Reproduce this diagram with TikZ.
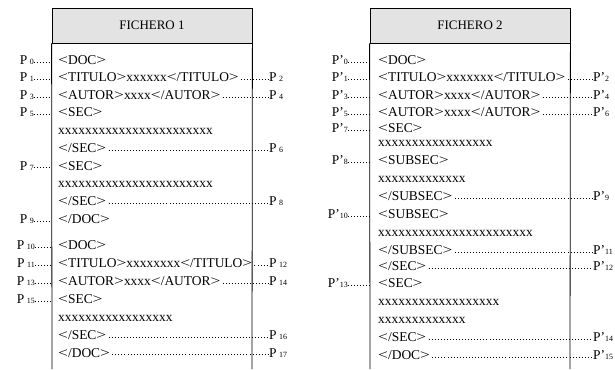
\documentclass[tikz,border=0pt]{standalone}
\usepackage{fontspec}
\usepackage{graphicx}
\setmainfont{Liberation Serif}
\newcommand{\fsz}{\fontsize{13.5}{16}\selectfont}
\newcommand{\sub}[1]{{\fontsize{8}{8}\selectfont #1}}
\newcommand{\PL}[1]{P\kern2.5bp\sub{#1}}
\newcommand{\PP}[1]{P’\sub{#1}}
\newcommand{\LT}{\scalebox{1.3}[1]{<}}
\newcommand{\GT}{\scalebox{1.3}[1]{>}}
\newcommand{\tg}[1]{\LT#1\GT}
\newcommand{\etg}[1]{\LT/#1\GT}
\tikzset{
  txt/.style={anchor=mid west, inner sep=0pt, font=\fsz},
  labl/.style={anchor=mid east, inner sep=0pt, font=\fsz},
  labr/.style={anchor=mid west, inner sep=0pt, font=\fsz},
  dotline/.style={line width=0.65bp, dash pattern=on 0.65bp off 2.4bp},
  hdr/.style={draw, line width=0.8bp, fill=gray!22, minimum width=200bp, minimum height=35bp, inner sep=0pt, font=\fontsize{13}{15}\selectfont},
  boxline/.style={line width=0.8bp}
}
\begin{document}
\begin{tikzpicture}[x=1bp,y=-1bp]
\useasboundingbox (0,0) rectangle (615,369);
% ---------- FICHERO 1 ----------
\node[hdr] (h1) at (152,25.5) {FICHERO 1};
\coordinate (b1l) at (52,369);
\coordinate (b1r) at (252,369);
\draw[boxline] (h1.south west) -- (b1l);
\draw[boxline] (h1.south east) -- (b1r);
% rows
\node[txt] (a0) at (58,62) {\tg{DOC}};
\node[txt] (a1) at (58,79.5) {\tg{TITULO}xxxxxx\etg{TITULO}};
\node[txt] (a2) at (58,97) {\tg{AUTOR}xxxx\etg{AUTOR}};
\node[txt] (a3) at (58,114.7) {\tg{SEC}};
\node[txt] (a4) at (58,132.4) {xxxxxxxxxxxxxxxxxxxxxxx};
\node[txt] (a5) at (58,150.1) {\etg{SEC}};
\node[txt] (a6) at (58,167.8) {\tg{SEC}};
\node[txt] (a7) at (58,185.5) {xxxxxxxxxxxxxxxxxxxxxxx};
\node[txt] (a8) at (58,203.3) {\etg{SEC}};
\node[txt] (a9) at (58,221.2) {\etg{DOC}};
\node[txt] (a10) at (58,247.2) {\tg{DOC}};
\node[txt] (a11) at (58,265.2) {\tg{TITULO}xxxxxxxx\etg{TITULO}};
\node[txt] (a12) at (58,283.2) {\tg{AUTOR}xxxx\etg{AUTOR}};
\node[txt] (a13) at (58,301.1) {\tg{SEC}};
\node[txt] (a14) at (58,319) {xxxxxxxxxxxxxxxxx};
\node[txt] (a15) at (58,336.9) {\etg{SEC}};
\node[txt] (a16) at (58,354.8) {\etg{DOC}};
% left labels
\node[labl] (p0) at (34,62) {\PL{0}};
\node[labl] (p1) at (34,79.5) {\PL{1}};
\node[labl] (p3) at (34,97) {\PL{3}};
\node[labl] (p5) at (34,114.7) {\PL{5}};
\node[labl] (p7) at (34,167.8) {\PL{7}};
\node[labl] (p9) at (34,221.2) {\PL{9}};
\node[labl] (p10) at (35,247.2) {\PL{10}};
\node[labl] (p11) at (35,265.2) {\PL{11}};
\node[labl] (p13) at (35,283.2) {\PL{13}};
\node[labl] (p15) at (35,301.1) {\PL{15}};
\foreach \n in {p0,p1,p3,p5,p7,p9,p10,p11,p13,p15}
  \draw[dotline] (\n.mid east) -- (\n.mid east -| b1l);
% right labels
\node[labr] (p2) at (269,79.5) {\PL{2}};
\node[labr] (p4) at (269,97) {\PL{4}};
\node[labr] (p6) at (269,150.1) {\PL{6}};
\node[labr] (p8) at (269,203.3) {\PL{8}};
\node[labr] (p12) at (269,265.2) {\PL{12}};
\node[labr] (p14) at (269,283.2) {\PL{14}};
\node[labr] (p16) at (269,336.9) {\PL{16}};
\node[labr] (p17) at (269,354.8) {\PL{17}};
\foreach \t/\n in {a1/p2,a2/p4,a5/p6,a8/p8,a11/p12,a12/p14,a15/p16,a16/p17}
  \draw[dotline] ([xshift=2bp]\t.mid east) -- (\n.mid west);
% ---------- FICHERO 2 ----------
\node[hdr] (h2) at (470,25.5) {FICHERO 2};
\coordinate (b2l) at (370,369);
\coordinate (b2r) at (570,369);
\draw[boxline] (h2.south west) -- (b2l);
\draw[boxline] (h2.south east) -- (b2r);
\node[txt] (c0) at (378,62) {\tg{DOC}};
\node[txt] (c1) at (378,79.5) {\tg{TITULO}xxxxxxx\etg{TITULO}};
\node[txt] (c2) at (378,97) {\tg{AUTOR}xxxx\etg{AUTOR}};
\node[txt] (c3) at (378,114.7) {\tg{AUTOR}xxxx\etg{AUTOR}};
\node[txt] (c4) at (378,130.2) {\tg{SEC}};
\node[txt] (c5) at (378,144.2) {xxxxxxxxxxxxxxxxx};
\node[txt] (c6) at (378,162.2) {\tg{SUBSEC}};
\node[txt] (c7) at (378,180) {xxxxxxxxxxxxx};
\node[txt] (c8) at (378,198) {\etg{SUBSEC}};
\node[txt] (c9) at (378,216.3) {\tg{SUBSEC}};
\node[txt] (c10) at (378,234) {xxxxxxxxxxxxxxxxxxxxxxx};
\node[txt] (c11) at (378,252.2) {\etg{SUBSEC}};
\node[txt] (c12) at (378,268) {\etg{SEC}};
\node[txt] (c13) at (378,285.5) {\tg{SEC}};
\node[txt] (c14) at (378,303.3) {xxxxxxxxxxxxxxxxxx};
\node[txt] (c15) at (378,321.3) {xxxxxxxxxxxxx};
\node[txt] (c16) at (378,339.4) {\etg{SEC}};
\node[txt] (c17) at (378,357.4) {\etg{DOC}};
\node[labl] (q0) at (348,62) {\PP{0}};
\node[labl] (q1) at (348,79.5) {\PP{1}};
\node[labl] (q3) at (348,97) {\PP{3}};
\node[labl] (q5) at (348,114.7) {\PP{5}};
\node[labl] (q7) at (348,130.2) {\PP{7}};
\node[labl] (q8) at (348,162.2) {\PP{8}};
\node[labl] (q10) at (348,216.3) {\PP{10}};
\node[labl] (q13) at (348,285.5) {\PP{13}};
\foreach \n in {q0,q1,q3,q5,q7,q8,q10,q13}
  \draw[dotline] (\n.mid east) -- (\n.mid east -| b2l);
\node[labr] (q2) at (593,79.5) {\PP{2}};
\node[labr] (q4) at (593,97) {\PP{4}};
\node[labr] (q6) at (593,114.7) {\PP{6}};
\node[labr] (q9) at (593,198) {\PP{9}};
\node[labr] (q11) at (593,252.2) {\PP{11}};
\node[labr] (q12) at (593,268) {\PP{12}};
\node[labr] (q14) at (593,339.4) {\PP{14}};
\node[labr] (q15) at (593,357.4) {\PP{15}};
\foreach \t/\n in {c1/q2,c2/q4,c3/q6,c8/q9,c11/q11,c12/q12,c16/q14,c17/q15}
  \draw[dotline] ([xshift=2bp]\t.mid east) -- (\n.mid west);
\end{tikzpicture}
\end{document}
